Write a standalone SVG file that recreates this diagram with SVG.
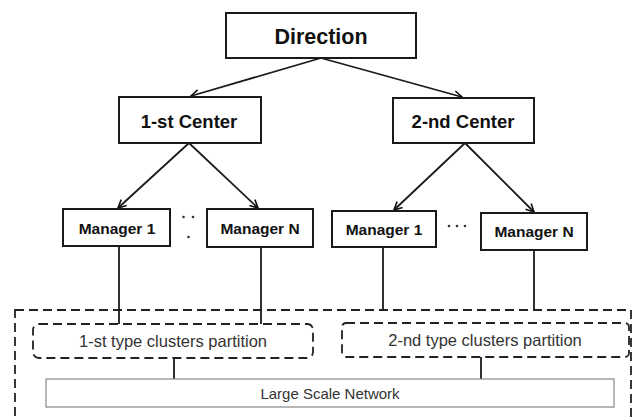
<svg xmlns="http://www.w3.org/2000/svg" width="632" height="417" viewBox="0 0 632 417">
<defs>
<marker id="arr" markerWidth="10" markerHeight="10" refX="9" refY="5" orient="auto" markerUnits="userSpaceOnUse">
<path d="M1,1 L9,5 L1,9" fill="none" stroke="#111" stroke-width="1.6"/>
</marker>
<style>
.box{fill:#fff;stroke:#1a1a1a;stroke-width:2}
.dash{fill:none;stroke:#222;stroke-width:1.8;stroke-dasharray:9 5}
.lsn{fill:#fff;stroke:#888;stroke-width:1.2}
.b{font-family:"Liberation Sans",Arial,sans-serif;font-weight:bold;fill:#111;text-anchor:middle}
.n{font-family:"Liberation Sans",Arial,sans-serif;fill:#333;text-anchor:middle}
.ln{stroke:#1a1a1a;stroke-width:1.8;fill:none}
.dot{fill:#333}
</style>
</defs>
<rect width="632" height="417" fill="#fff"/>
<g id="outer">
<rect class="dash" x="15" y="310" width="616" height="130"/>
</g>
<g id="connectors">
<line class="ln" x1="321" y1="58" x2="191" y2="96" marker-end="url(#arr)"/>
<line class="ln" x1="321" y1="58" x2="462" y2="97" marker-end="url(#arr)"/>
<line class="ln" x1="189" y1="143" x2="118" y2="208" marker-end="url(#arr)"/>
<line class="ln" x1="189" y1="143" x2="258" y2="208" marker-end="url(#arr)"/>
<line class="ln" x1="465" y1="143" x2="394" y2="210" marker-end="url(#arr)"/>
<line class="ln" x1="465" y1="143" x2="534" y2="212" marker-end="url(#arr)"/>
<line class="ln" x1="119" y1="246" x2="119" y2="324"/>
<line class="ln" x1="261" y1="247" x2="261" y2="324"/>
<line class="ln" x1="383" y1="247" x2="383" y2="310"/>
<line class="ln" x1="534" y1="250" x2="534" y2="310"/>
<line class="ln" x1="174" y1="358" x2="174" y2="379"/>
<line class="ln" x1="481" y1="357" x2="481" y2="379"/>
</g>
<g id="direction">
<rect class="box" x="226" y="13" width="190" height="45"/>
<text class="b" x="321" y="44" font-size="21.5">Direction</text>
</g>
<g id="center1">
<rect class="box" x="119" y="97" width="142" height="46"/>
<text class="b" x="189" y="128" font-size="18.5">1-st Center</text>
</g>
<g id="center2">
<rect class="box" x="393" y="98" width="141" height="45"/>
<text class="b" x="463" y="128" font-size="18.5">2-nd Center</text>
</g>
<g id="manager1a">
<rect class="box" x="63" y="209" width="107" height="37"/>
<text class="b" x="117" y="234" font-size="15.5">Manager 1</text>
</g>
<g id="managerNa">
<rect class="box" x="207" y="209" width="106" height="38"/>
<text class="b" x="260" y="234" font-size="15.5">Manager N</text>
</g>
<g id="dots1">
<circle class="dot" cx="183.5" cy="217" r="1.3"/>
<circle class="dot" cx="193" cy="217" r="1.3"/>
<circle class="dot" cx="188.5" cy="237" r="1.3"/>
</g>
<g id="manager1b">
<rect class="box" x="332" y="211" width="104" height="36"/>
<text class="b" x="384" y="235" font-size="15.5">Manager 1</text>
</g>
<g id="dots2">
<circle class="dot" cx="449" cy="226" r="1.3"/>
<circle class="dot" cx="457" cy="226" r="1.3"/>
<circle class="dot" cx="465" cy="226" r="1.3"/>
</g>
<g id="managerNb">
<rect class="box" x="481" y="213" width="106" height="37"/>
<text class="b" x="534" y="237" font-size="15.5">Manager N</text>
</g>
<g id="partition1">
<rect class="dash" x="33" y="324" width="280" height="34" rx="6"/>
<text class="n" x="173" y="347" font-size="16.5">1-st type clusters partition</text>
</g>
<g id="partition2">
<rect class="dash" x="342" y="323" width="287" height="34" rx="4"/>
<text class="n" x="485" y="346" font-size="16.5">2-nd type clusters partition</text>
</g>
<g id="lsn">
<rect class="lsn" x="46" y="379" width="568" height="28"/>
<text class="n" x="330" y="399" font-size="15">Large Scale Network</text>
</g>
</svg>
